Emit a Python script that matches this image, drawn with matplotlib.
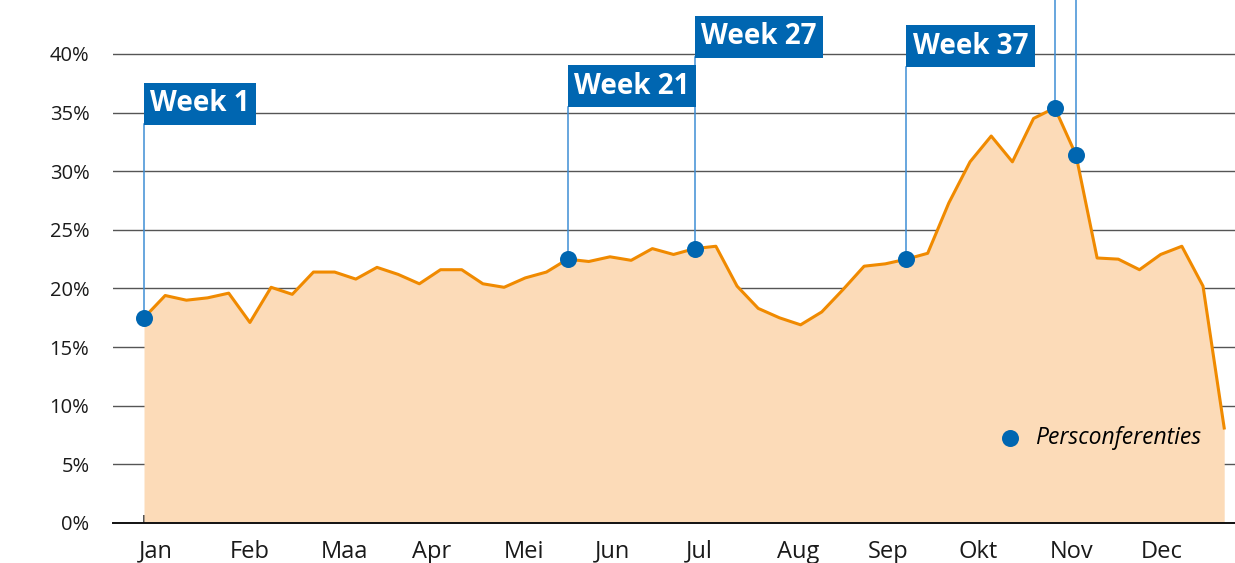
import numpy as np
import matplotlib.pyplot as plt
from matplotlib.transforms import ScaledTranslation

plt.rcParams["font.family"] = ["Open Sans", "DejaVu Sans"]

# Weekly share (%), week 1 to 52
weeks = np.arange(1, 53)
share = [17.5, 19.4, 19.0, 19.2, 19.6, 17.1, 20.1, 19.5, 21.4, 21.4,
         20.8, 21.8, 21.2, 20.4, 21.6, 21.6, 20.4, 20.1, 20.9, 21.4,
         22.5, 22.3, 22.7, 22.4, 23.4, 22.9, 23.4, 23.6, 20.2, 18.3,
         17.5, 16.9, 18.0, 19.9, 21.9, 22.1, 22.5, 23.0, 27.3, 30.8,
         33.0, 30.8, 34.5, 35.4, 31.4, 22.6, 22.5, 21.6, 22.9, 23.6,
         20.2, 8.1]

# Weeks with a press conference
press_weeks = [1, 21, 27, 37, 44, 45]
press_labels = ["Week 1", "Week 21", "Week 27", "Week 37", None, None]
label_bottom = [34.0, 35.5, 39.7, 38.9, 48, 48]

months = ["Jan", "Feb", "Maa", "Apr", "Mei", "Jun",
          "Jul", "Aug", "Sep", "Okt", "Nov", "Dec"]
month_pos = 1 + np.arange(12) * 4.3

orange = "#F08A00"
fill_col = "#FCDBB8"
blue = "#0066B1"
line_blue = "#3F8ED4"

fig = plt.figure(figsize=(12.35, 5.63), dpi=100)
ax = fig.add_axes([113 / 1235, 40 / 563, 1122 / 1235, 523 / 563])

# Area and line
ax.fill_between(weeks, share, 0, color=fill_col, linewidth=0, zorder=1)
ax.plot(weeks, share, color=orange, linewidth=2.2, zorder=3)

# Press conference markers with label boxes
for wk, lab, top in zip(press_weeks, press_labels, label_bottom):
    val = share[wk - 1]
    ax.plot([wk, wk], [val, top], color=line_blue, linewidth=1.1,
            zorder=2, clip_on=True)
    if lab is not None:
        ax.annotate(lab, xy=(wk, top), xytext=(4.6, 4.4),
                    textcoords="offset points", ha="left", va="bottom",
                    fontsize=20, fontweight="bold", color="white",
                    bbox=dict(boxstyle="square,pad=0.23", fc=blue,
                              ec="none"), zorder=5)

pts = ax.scatter(press_weeks, [share[w - 1] for w in press_weeks],
                 s=150, color=blue, zorder=4, label="Persconferenties",
                 linewidths=0)

# Legend inside the area
leg = ax.legend(handles=[pts], loc="center right",
                bbox_to_anchor=(0.9697, 0.1625), frameon=False,
                borderpad=0, borderaxespad=0, handlelength=1.0,
                handletextpad=0.6, scatterpoints=1,
                prop=dict(size=16.5, style="italic"))

# Axes
ax.set_xlim(-0.464, 52.51)
ax.set_ylim(0, 44.6)
ax.set_yticks(range(0, 45, 5))
ax.set_yticklabels([f"{v}%" for v in range(0, 45, 5)], fontsize=14.5,
                   color="#1a1a1a")
ax.set_xticks(month_pos)
ax.set_xticklabels(months, fontsize=17, color="#1a1a1a")
ax.tick_params(axis="y", length=0, pad=17)
ax.tick_params(axis="x", direction="in", length=6, width=1.2,
               color="#333333", pad=12)
offset = ScaledTranslation(-5 / 100, 0, fig.dpi_scale_trans)
for lbl in ax.get_xticklabels():
    lbl.set_horizontalalignment("left")
    lbl.set_transform(lbl.get_transform() + offset)

ax.grid(axis="y", color="#555555", linewidth=1.0)
ax.grid(axis="x", visible=False)
ax.set_axisbelow(True)
for side in ["top", "right", "left"]:
    ax.spines[side].set_visible(False)
ax.spines["bottom"].set_color("#111111")
ax.spines["bottom"].set_linewidth(1.4)
ax.spines["bottom"].set_zorder(6)

fig.savefig("out.png", dpi=100)
